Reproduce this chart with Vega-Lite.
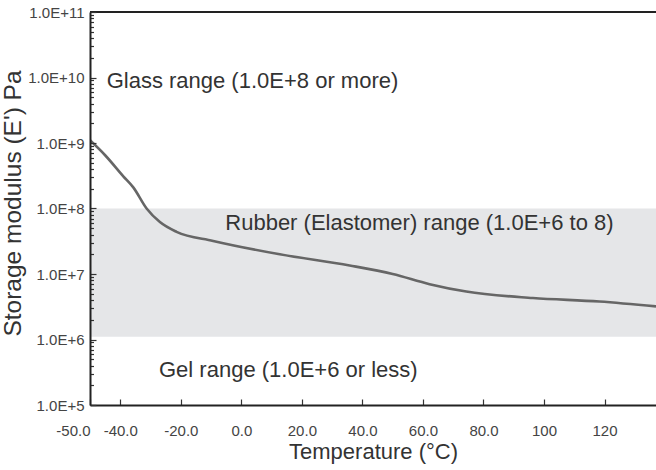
{
  "$schema": "https://vega.github.io/schema/vega-lite/v6.json",
  "width": 566,
  "height": 393,
  "autosize": {"type": "none"},
  "padding": {"left": 90, "top": 12, "right": 0, "bottom": 65},
  "background": "white",
  "config": {
    "view": {"stroke": null},
    "font": "Liberation Sans",
    "axis": {"grid": false, "domainColor": "#222", "domainWidth": 2, "tickColor": "#333", "tickWidth": 1.2, "labelColor": "#444", "titleColor": "#333", "titleFontWeight": "normal", "labelFont": "Liberation Sans", "titleFont": "Liberation Sans", "labelOverlap": false, "labelFontSize": 15, "zindex": 1}
  },
  "datasets": {
    "curve": [
      {"t": -50, "e": 1.1e9},
      {"t": -45, "e": 6.5e8},
      {"t": -39, "e": 3.1e8},
      {"t": -35.7, "e": 2.1e8},
      {"t": -31.3, "e": 1.0e8},
      {"t": -26.9, "e": 6.2e7},
      {"t": -21.4, "e": 4.4e7},
      {"t": -9.3, "e": 3.2e7},
      {"t": 12.7, "e": 2.0e7},
      {"t": 35.8, "e": 1.35e7},
      {"t": 50, "e": 1.0e7},
      {"t": 62.2, "e": 7.0e6},
      {"t": 74.3, "e": 5.4e6},
      {"t": 96.3, "e": 4.3e6},
      {"t": 118.3, "e": 3.8e6},
      {"t": 137, "e": 3.2e6}
    ],
    "band": [{"t": -50, "t2": 137, "e": 1.1e6, "e2": 1.0e8}],
    "frame": [{"t": -50, "t2": 137, "e": 1e11}],
    "notes": [
      {"t": -44.5, "e": 8.9e9, "txt": "Glass range (1.0E+8 or more)"},
      {"t": -5.3, "e": 6.1e7, "txt": "Rubber (Elastomer) range (1.0E+6 to 8)"},
      {"t": -27.2, "e": 3.4e5, "txt": "Gel range (1.0E+6 or less)"}
    ]
  },
  "encoding": {
    "x": {"field": "t", "type": "quantitative", "title": "Temperature (°C)",
      "scale": {"domain": [-50, 137], "nice": false, "zero": false},
      "axis": {"orient": "bottom", "values": [-50, -40, -20, 0, 20, 40, 60, 80, 100, 120],
        "labelExpr": "replace(abs(datum.value) >= 100 ? format(datum.value, 'd') : format(datum.value, '.1f'), '−', '-')",
        "labelAlign": {"condition": {"test": "datum.value == -50", "value": "right"}, "value": "center"},
        "tickSize": -6, "labelPadding": 24, "labelFontSize": 15, "titleFontSize": 22, "titlePadding": 3, "zindex": 1}},
    "y": {"field": "e", "type": "quantitative", "title": "Storage modulus (E') Pa",
      "scale": {"type": "log", "domain": [1e5, 1e11], "nice": false},
      "axis": {"orient": "left",
        "values": [1e5,2e5,3e5,4e5,5e5,6e5,7e5,8e5,9e5,1e6,2e6,3e6,4e6,5e6,6e6,7e6,8e6,9e6,1e7,2e7,3e7,4e7,5e7,6e7,7e7,8e7,9e7,1e8,2e8,3e8,4e8,5e8,6e8,7e8,8e8,9e8,1e9,2e9,3e9,4e9,5e9,6e9,7e9,8e9,9e9,1e10,2e10,3e10,4e10,5e10,6e10,7e10,8e10,9e10,1e11],
        "labelExpr": "abs(log(datum.value)/LN10 - round(log(datum.value)/LN10)) < 0.001 ? '1.0E+' + round(log(datum.value)/LN10) : ''",
        "tickSize": {"condition": {"test": "abs(log(datum.value)/LN10 - round(log(datum.value)/LN10)) < 0.001", "value": -6}, "value": -3.5},
        "labelPadding": 12, "labelFontSize": 15, "titleFontSize": 24.5, "titlePadding": 2, "titleY": 191, "zindex": 1}}
  },
  "layer": [
    {
      "data": {"name": "band"},
      "mark": {"type": "rect", "color": "#e5e6e8"},
      "encoding": {"x2": {"field": "t2"}, "y2": {"field": "e2"}}
    },
    {
      "data": {"name": "frame"},
      "mark": {"type": "rule", "color": "#222", "strokeWidth": 2},
      "encoding": {"x2": {"field": "t2"}}
    },
    {
      "data": {"name": "curve"},
      "mark": {"type": "line", "color": "#666", "strokeWidth": 2.6, "interpolate": "monotone", "clip": true},
      "encoding": {}
    },
    {
      "data": {"name": "notes"},
      "mark": {"type": "text", "align": "left", "baseline": "middle", "fontSize": 22, "color": "#333", "font": "Liberation Sans"},
      "encoding": {"text": {"field": "txt"}}
    }
  ]
}
